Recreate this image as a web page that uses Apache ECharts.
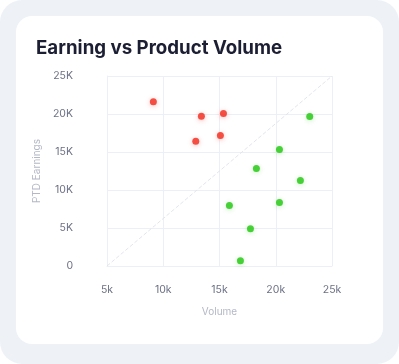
<!DOCTYPE html>
<html><head><meta charset="utf-8">
<script src="https://cdn.jsdelivr.net/npm/echarts@6/dist/echarts.min.js"></script>
<style>
html,body{margin:0;padding:0;width:399px;height:364px;background:#fff;overflow:hidden;}
#frame{position:absolute;left:0;top:0;width:399px;height:364px;background:#eef2f7;border-radius:22px;}
#card{position:absolute;left:16px;top:16px;width:367px;height:328px;background:#fff;border-radius:16px;}
#chart{position:absolute;left:0;top:0;width:399px;height:364px;}
</style></head>
<body>
<div id="frame"></div><div id="card"></div>
<div id="chart"></div>
<script>
const titleText = "Earning vs Product Volume";
const xName = "Volume";
const yName = "PTD Earnings";
const lossPoints = [[9120,21600],[13390,19700],[12890,16400],[15350,20080],[15080,17180]];
const gainPoints = [[23020,19680],[20330,15340],[18280,12840],[22190,11260],[15880,7970],[20330,8370],[17750,4910],[16860,700]];
const xTicks = {min:5000,max:25000,interval:5000};
const yTicks = {min:0,max:25000,interval:5000};

const chart = echarts.init(document.getElementById('chart'));
const fmtK = v => v===0 ? '0' : (v/1000)+'K';
const fmtk = v => (v/1000)+'k';
chart.setOption({
  backgroundColor:'transparent',
  title:{text:titleText,left:31,top:34,textStyle:{fontFamily:'Inter',fontWeight:700,fontSize:18.7,color:'#1c1f33'}},
  grid:{left:107,right:67,top:76,bottom:98},
  xAxis:{type:'value',min:xTicks.min,max:xTicks.max,interval:xTicks.interval,
    name:xName,nameLocation:'middle',nameGap:41,
    nameTextStyle:{color:'#b4b8c6',fontFamily:'Inter',fontSize:10},
    axisLine:{show:true,lineStyle:{color:'#eceff6'}},axisTick:{show:false},
    axisLabel:{formatter:fmtk,color:'#6c7085',fontFamily:'Inter',fontSize:10.5,margin:18},
    splitLine:{show:true,lineStyle:{color:'#eceff6'}}},
  yAxis:{type:'value',min:yTicks.min,max:yTicks.max,interval:yTicks.interval,
    name:yName,nameLocation:'middle',nameGap:64,
    nameTextStyle:{color:'#b4b8c6',fontFamily:'Inter',fontSize:10},
    axisLine:{show:true,lineStyle:{color:'#eceff6'}},axisTick:{show:false},
    axisLabel:{formatter:fmtK,color:'#6c7085',fontFamily:'Inter',fontSize:10.5,margin:34},
    splitLine:{show:true,lineStyle:{color:'#eceff6'}}},
  series:[
    {type:'scatter',data:lossPoints,symbolSize:7,
      itemStyle:{color:'#f2291c',shadowBlur:5,shadowColor:'rgba(242,41,28,0.35)',shadowOffsetY:1},
      markLine:{silent:true,symbol:'none',label:{show:false},
        lineStyle:{type:'dashed',color:'#e2e5ec',width:1},
        data:[[{coord:[5000,0]},{coord:[25000,25000]}]]}},
    {type:'scatter',data:gainPoints,symbolSize:7,
      itemStyle:{color:'#1fc70c',shadowBlur:5,shadowColor:'rgba(31,199,12,0.3)',shadowOffsetY:1}}
  ]
});
</script>
</body></html>
